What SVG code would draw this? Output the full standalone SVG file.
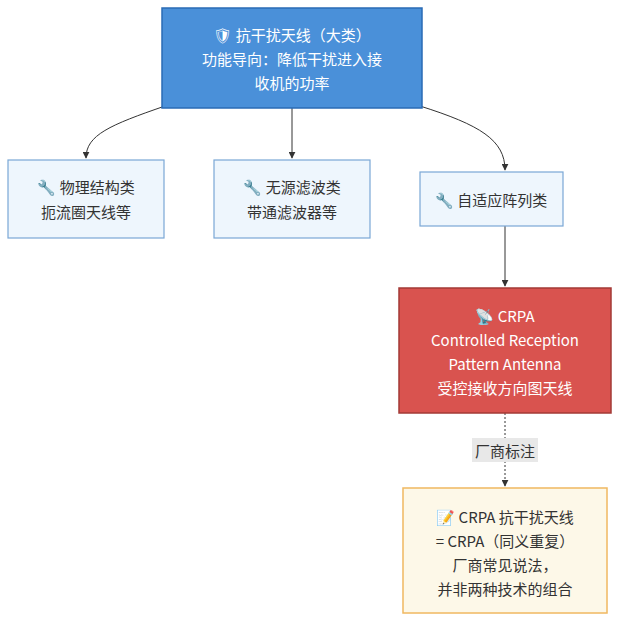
<svg xmlns="http://www.w3.org/2000/svg" width="620" height="622" viewBox="0 0 620 622">
<style>
text{font-family:"Noto Sans CJK SC","Noto Sans",sans-serif;font-size:15px;text-anchor:middle;dominant-baseline:central}
.w{fill:#fff}.d{fill:#333}
.light{fill:#eef6fd;stroke:#7aa7d6;stroke-width:1.2}
.e{fill:none;stroke:#333;stroke-width:1}
</style>
<defs><marker id="a" viewBox="0 0 10 10" refX="9" refY="5" markerWidth="7" markerHeight="7" orient="auto"><path d="M0,0L10,5L0,10z" fill="#333"/></marker></defs>
<rect width="620" height="622" fill="#fff"/>
<g id="edges">
<path class="e" d="M165,106 C110,125 86,135 86,158" marker-end="url(#a)"/>
<path class="e" d="M292,108 L292,158" marker-end="url(#a)"/>
<path class="e" d="M420,106 C480,125 505,140 505,170" marker-end="url(#a)"/>
<path class="e" d="M505,226 L505,286" marker-end="url(#a)"/>
<path class="e" d="M505,413 L505,486" stroke-dasharray="2,2" marker-end="url(#a)"/>
<rect x="472" y="438" width="66" height="24" fill="#e8e8e8"/>
<text class="d" x="505" y="450">厂商标注</text>
</g>
<g id="top"><rect x="162" y="8" width="260" height="100" fill="#4a90d9" stroke="#2a6bb5" stroke-width="1.5"/>
<text class="w" x="292" y="34">🛡 抗干扰天线（大类）</text><text class="w" x="292" y="58">功能导向：降低干扰进入接</text><text class="w" x="292" y="82">收机的功率</text></g>
<g id="n1"><rect class="light" x="8" y="160" width="156" height="78"/><text class="d" x="86" y="186">🔧 物理结构类</text><text class="d" x="86" y="211">扼流圈天线等</text></g>
<g id="n2"><rect class="light" x="214" y="160" width="156" height="78"/><text class="d" x="292" y="186">🔧 无源滤波类</text><text class="d" x="292" y="211">带通滤波器等</text></g>
<g id="n3"><rect class="light" x="420" y="172" width="143" height="54"/><text class="d" x="491" y="199">🔧 自适应阵列类</text></g>
<g id="crpa"><rect x="399" y="288" width="212" height="125" fill="#d9534f" stroke="#a33a36" stroke-width="1.5"/>
<text class="w" x="505" y="315">📡 CRPA</text><text class="w" x="505" y="339">Controlled Reception</text><text class="w" x="505" y="363">Pattern Antenna</text><text class="w" x="505" y="387">受控接收方向图天线</text></g>
<g id="note"><rect x="403" y="488" width="204" height="125" fill="#fdf8e8" stroke="#f0b860" stroke-width="1.5"/>
<text class="d" x="505" y="516">📝 CRPA 抗干扰天线</text><text class="d" x="505" y="540">= CRPA（同义重复）</text><text class="d" x="505" y="564">厂商常见说法，</text><text class="d" x="505" y="588">并非两种技术的组合</text></g>
</svg>
